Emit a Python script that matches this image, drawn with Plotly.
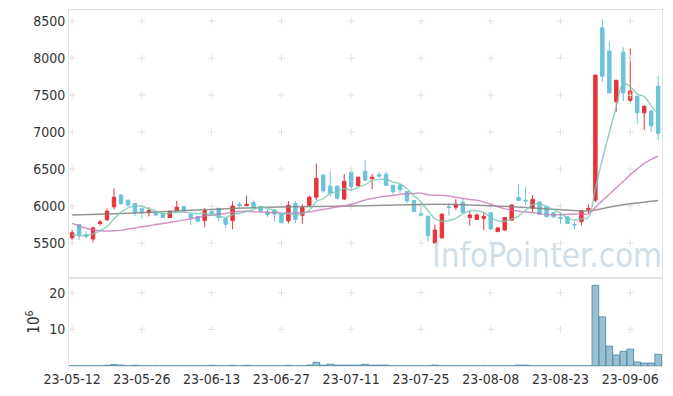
import pandas as pd
import numpy as np
import plotly.graph_objects as go
from plotly.subplots import make_subplots

FONT = "DejaVu Sans Condensed, Liberation Sans Narrow, Liberation Sans, sans-serif"

holidays = ['2023-05-29', '2023-06-06', '2023-08-15']
dates = [d.strftime('%y-%m-%d') for d in
         pd.bdate_range('2023-05-12', '2023-09-12', freq='C', holidays=holidays)]

opens = [5570, 5750, 5615, 5555, 5765, 5815, 5990, 6150, 6080, 6035,
         5970, 5910, 5910, 5900, 5845, 5935, 5995, 5890, 5860, 5805,
         5925, 5970, 5830, 5805, 6025, 6005, 6050, 5995, 5920, 5945,
         5895, 5800, 6035, 5875, 6010, 6120, 6420, 6270, 6270, 6095,
         6460, 6275, 6470, 6370, 6425, 6430, 6280, 6285, 6195, 6075,
         5895, 5865, 5500, 5570, 5990, 5985, 6050, 5845, 5820, 5835,
         5910, 5655, 5675, 5810, 6115, 6080, 5970, 6055, 5990, 5910,
         5845, 5855, 5750, 5790, 5950, 6080, 8410, 8095, 7410, 8080,
         7430, 7485, 7260, 7285, 7620]
highs = [5680, 5755, 5660, 5720, 5810, 5970, 6240, 6150, 6085, 6040,
         5975, 5985, 5930, 5905, 5935, 6070, 5998, 5895, 5865, 5975,
         5955, 5975, 5845, 6065, 6055, 6140, 6075, 6000, 5955, 5950,
         5900, 6070, 6070, 6025, 6140, 6575, 6425, 6470, 6275, 6430,
         6470, 6395, 6620, 6435, 6455, 6460, 6290, 6290, 6200, 6080,
         6035, 5870, 5750, 5905, 6040, 6095, 6115, 5930, 5900, 5915,
         5912, 5710, 5850, 6020, 6295, 6260, 6150, 6070, 6000, 5920,
         5900, 5860, 5790, 5940, 6025, 7775, 8525, 8220, 7705, 8145,
         8130, 7490, 7355, 7300, 7760]
lows = [5540, 5540, 5565, 5510, 5735, 5800, 5955, 6020, 5990, 5865,
        5825, 5860, 5865, 5840, 5840, 5930, 5930, 5745, 5790, 5715,
        5865, 5790, 5700, 5685, 5980, 6000, 5975, 5905, 5850, 5790,
        5770, 5765, 5770, 5760, 6005, 6080, 6180, 6130, 6090, 6080,
        6205, 6270, 6345, 6230, 6380, 6275, 6150, 6175, 6035, 5920,
        5855, 5515, 5495, 5565, 5870, 5945, 5910, 5735, 5815, 5675,
        5685, 5650, 5670, 5805, 6070, 6010, 5925, 5885, 5850, 5840,
        5765, 5760, 5690, 5735, 5900, 6050, 7680, 7530, 7275, 7420,
        7405, 7115, 7025, 7000, 6890]
closes = [5640, 5610, 5590, 5705, 5785, 5930, 6120, 6030, 6015, 5915,
          5915, 5940, 5880, 5845, 5930, 5985, 5935, 5845, 5795, 5940,
          5895, 5845, 5755, 6000, 6005, 6025, 5985, 5935, 5885, 5890,
          5775, 6010, 5820, 5980, 6120, 6375, 6205, 6175, 6105, 6335,
          6265, 6390, 6350, 6390, 6405, 6280, 6195, 6220, 6070, 5925,
          5880, 5600, 5675, 5890, 5980, 6025, 5915, 5880, 5880, 5860,
          5690, 5705, 5845, 6015, 6075, 6070, 6090, 5890, 5855, 5855,
          5835, 5765, 5745, 5935, 5970, 7770, 7755, 7530, 7700, 7530,
          7555, 7260, 7350, 7085, 6985]
volume_m = [0.05, 0.05, 0.05, 0.05, 0.05, 0.2, 0.4, 0.25, 0.05, 0.2,
            0.05, 0.05, 0.05, 0.05, 0.05, 0.05, 0.05, 0.05, 0.05, 0.05,
            0.2, 0.05, 0.05, 0.2, 0.05, 0.2, 0.05, 0.05, 0.05, 0.05,
            0.05, 0.2, 0.05, 0.05, 0.25, 1.0, 0.25, 0.5, 0.25, 0.25,
            0.25, 0.25, 0.45, 0.25, 0.25, 0.25, 0.05, 0.05, 0.05, 0.05,
            0.05, 0.05, 0.25, 0.05, 0.05, 0.05, 0.05, 0.05, 0.05, 0.05,
            0.05, 0.05, 0.05, 0.05, 0.25, 0.25, 0.05, 0.05, 0.05, 0.05,
            0.05, 0.05, 0.05, 0.05, 0.05, 22.0, 13.4, 5.4, 3.0, 4.0,
            4.6, 1.1, 0.8, 0.8, 3.2]

# moving-average lines: early values (window predates shown data)
ma5_head = [5617, 5600, 5600, 5626]
ma20_head = [5766, 5730, 5700, 5680, 5668, 5662, 5665, 5675, 5690, 5705,
             5720, 5735, 5750, 5765, 5780, 5795, 5810, 5828, 5845]
ma_long_idx = [0, 5, 10, 15, 20, 25, 30, 35, 40, 45, 50, 55, 60, 65, 70, 74, 77, 80, 84]
ma_long_val = [5878, 5892, 5910, 5935, 5955, 5975, 5988, 5995, 6000, 6012,
               6022, 6022, 6005, 5982, 5950, 5935, 5985, 6030, 6075]

price_ticks = [5500, 6000, 6500, 7000, 7500, 8000, 8500]
vol_ticks = [10, 20]
tick_step = 10

cs = pd.Series(closes)
ma5 = ma5_head + list(cs.rolling(5).mean().iloc[len(ma5_head):])
ma20 = ma20_head + list(cs.rolling(20).mean().iloc[len(ma20_head):])

fig = make_subplots(rows=2, cols=1, shared_xaxes=True, vertical_spacing=0,
                    row_heights=[0.753, 0.247])

xt = dates[::tick_step]

# grid cross markers at tick intersections
gx = [x for x in xt for _ in price_ticks]
gy = [y for _ in xt for y in price_ticks]
fig.add_trace(go.Scatter(x=gx, y=gy, mode='markers', hoverinfo='skip',
                         marker=dict(symbol='cross-thin', size=5,
                                     line=dict(color='#e2e2e2', width=1))), row=1, col=1)
gx2 = [x for x in xt for _ in vol_ticks]
gy2 = [y for _ in xt for y in vol_ticks]
fig.add_trace(go.Scatter(x=gx2, y=gy2, mode='markers', hoverinfo='skip',
                         marker=dict(symbol='cross-thin', size=5,
                                     line=dict(color='#e2e2e2', width=1))), row=2, col=1)

fig.add_trace(go.Scatter(x=[dates[i] for i in ma_long_idx], y=ma_long_val, mode='lines',
                         line=dict(color='rgba(130,130,130,0.85)', width=1.5, shape='spline')),
              row=1, col=1)
fig.add_trace(go.Scatter(x=dates, y=ma20, mode='lines',
                         line=dict(color='rgba(200,120,185,0.8)', width=1.5, shape='spline')),
              row=1, col=1)
fig.add_trace(go.Scatter(x=dates, y=ma5, mode='lines',
                         line=dict(color='rgba(120,200,180,0.8)', width=1.5, shape='spline')),
              row=1, col=1)

fig.add_trace(go.Candlestick(x=dates, open=opens, high=highs, low=lows, close=closes,
                             increasing=dict(line=dict(color='#e8333b', width=1),
                                             fillcolor='#e8333b'),
                             decreasing=dict(line=dict(color='#6cc3da', width=1),
                                             fillcolor='#6cc3da'),
                             whiskerwidth=0),
              row=1, col=1)

fig.add_trace(go.Bar(x=dates, y=volume_m,
                     marker=dict(color='rgba(120,170,195,0.75)',
                                 line=dict(color='rgba(80,140,170,0.9)', width=1))),
              row=2, col=1)

axis_common = dict(showline=True, linecolor='#e3e3e3', linewidth=1, mirror=True,
                   showgrid=False, zeroline=False, automargin=False)
fig.update_xaxes(type='category', categoryorder='array', categoryarray=dates,
                 range=[-0.45, len(dates) - 0.45],
                 rangeslider_visible=False, **axis_common)
fig.update_xaxes(showticklabels=False, row=1, col=1)
fig.update_xaxes(tickvals=xt, ticktext=xt, ticks='', tickangle=0,
                 tickfont=dict(size=14, color='#333'), row=2, col=1)
fig.update_yaxes(range=[5027, 8650], tickvals=price_ticks, ticks='',
                 tickfont=dict(size=14, color='#333'), row=1, col=1, **axis_common)
fig.update_yaxes(range=[0, 24], tickvals=vol_ticks, ticks='',
                 tickfont=dict(size=14, color='#333'),
                 title=dict(text='10<sup>6</sup>', font=dict(size=15, color='#333'), standoff=5),
                 row=2, col=1, **axis_common)

fig.add_annotation(text='InfoPointer.com', xref='paper', yref='paper', x=0.806, y=0.309,
                   showarrow=False, xanchor='center', yanchor='middle',
                   font=dict(family=FONT, size=33, color='rgba(175,200,218,0.6)'))

fig.update_layout(width=673, height=396, margin=dict(l=61, r=19, t=2, b=38, autoexpand=False),
                  plot_bgcolor='white', paper_bgcolor='white', showlegend=False,
                  bargap=0.05, font=dict(family=FONT, size=14, color='#333'))

fig.write_html("out.html")
